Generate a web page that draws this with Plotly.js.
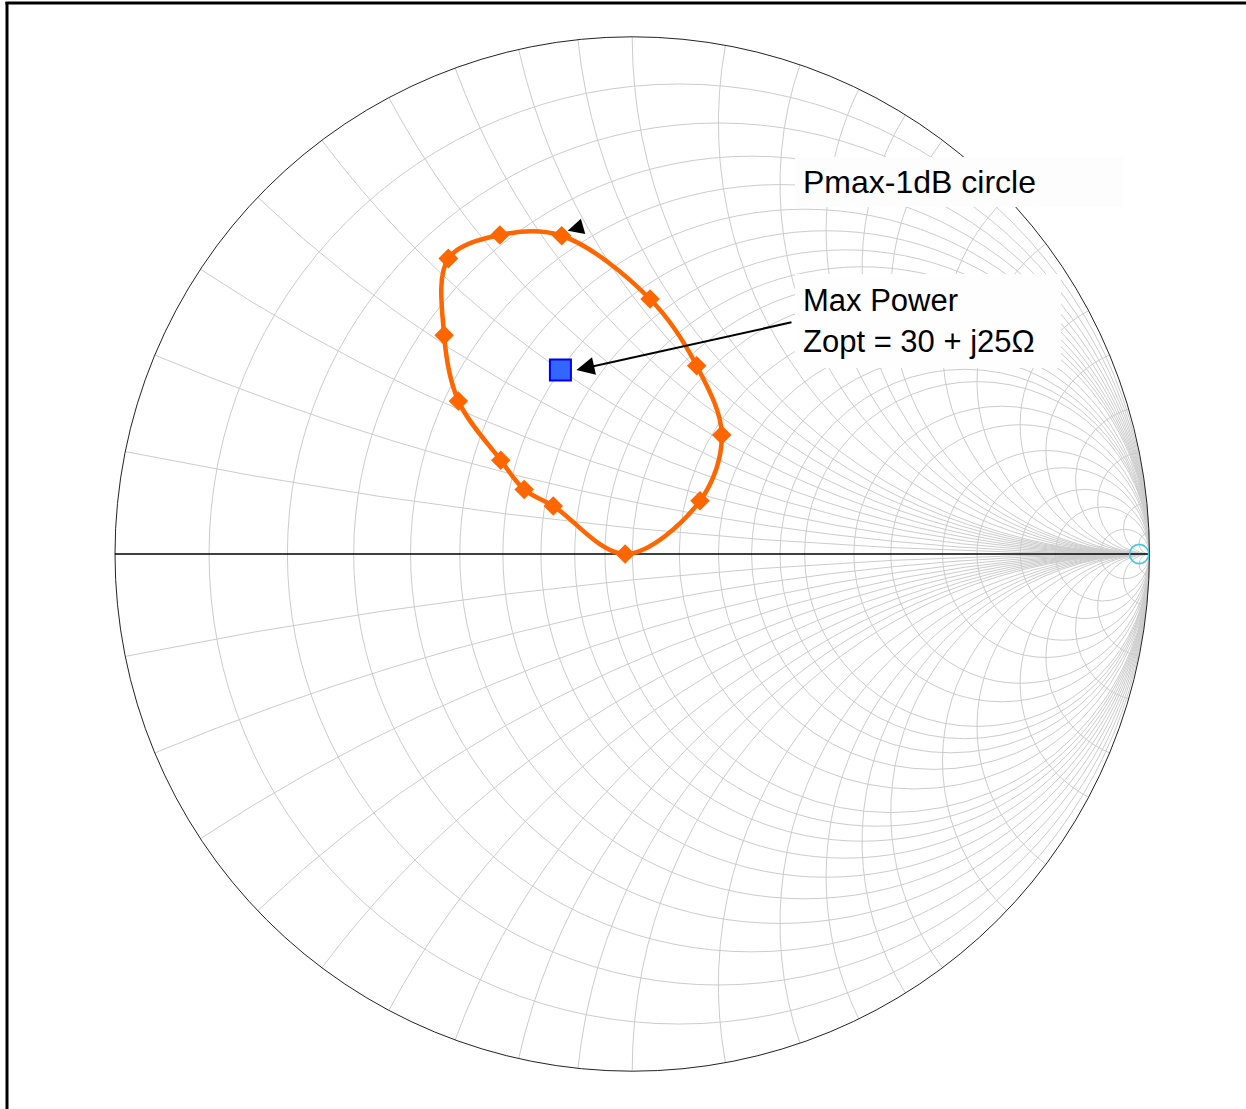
<!DOCTYPE html>
<html>
<head>
<meta charset="utf-8">
<script src="https://cdn.plot.ly/plotly-3.0.1.min.js"></script>
<style>
  html, body { margin: 0; padding: 0; background: #ffffff; }
  #chart { width: 1246px; height: 1109px; }
</style>
</head>
<body>
<div id="chart"></div>
<script>
// ---- Data (normalized impedance, Z0 = 50 ohm) ----
// Pmax-1dB contour points (real part r, imaginary part x), closed loop
const contourReal = [0.253, 0.283, 0.361, 0.643, 0.948, 1.245, 1.270, 0.973, 0.724, 0.637, 0.562, 0.427, 0.338, 0.253];
const contourImag = [0.528, 0.630, 0.737, 0.839, 0.810, 0.625, 0.269, 0.000, 0.139, 0.169, 0.226, 0.316, 0.415, 0.528];
// Optimum impedance Zopt = 30 + j25 ohm -> normalized 0.6 + j0.5
const zoptReal = [0.6];
const zoptImag = [0.5];
// Open-circuit reference marker
const refReal = [100];
const refImag = [0];
// Grid values of the chart
const resistanceTicks = [0.1, 0.2, 0.3, 0.4, 0.5, 0.6, 0.7, 0.8, 0.9, 1, 1.2, 1.4, 1.6, 1.8, 2, 2.5, 3, 4, 5, 7, 10, 20, 50];
const reactanceTicksPos = [0.1, 0.2, 0.3, 0.4, 0.5, 0.6, 0.7, 0.8, 0.9, 1, 1.2, 1.4, 1.6, 1.8, 2, 2.5, 3, 4, 5, 7, 10, 20, 50];
const reactanceTicks = reactanceTicksPos.map(v => -v).reverse().concat(reactanceTicksPos);
// Labels
const contourLabel = 'Pmax-1dB circle';
const zoptLabel = 'Max Power<br>Zopt = 30 + j25Ω';

// ---- Layout geometry ----
const W = 1246, H = 1109;
const domX = [115 / W, 1149.4 / W];
const domY = [1 - 1071.2 / H, 1 - 36.8 / H];
const cx = (domX[0] + domX[1]) / 2 * W;
const cy = (1 - (domY[0] + domY[1]) / 2) * H;
const Rpx = Math.min((domX[1] - domX[0]) * W, (domY[1] - domY[0]) * H) / 2;
function smithPx(r, x) {
  const den = (r + 1) * (r + 1) + x * x;
  const gr = (r * r + x * x - 1) / den;
  const gi = 2 * x / den;
  return [cx + Rpx * gr, cy - Rpx * gi];
}
const zoptPx = smithPx(zoptReal[0], zoptImag[0]);
const startPx = smithPx(contourReal[2], contourImag[2]);

const font = 'Liberation Sans, Arial, sans-serif';
const gridCol = '#cccccc';

const traces = [
  {
    type: 'scattersmith',
    real: contourReal,
    imag: contourImag,
    mode: 'lines+markers',
    line: { color: '#ff6600', width: 4.5, shape: 'spline', smoothing: 1 },
    marker: { symbol: 'diamond', size: 15, color: '#ff6600' },
    showlegend: false,
    hoverinfo: 'skip'
  },
  {
    type: 'scattersmith',
    real: zoptReal,
    imag: zoptImag,
    mode: 'markers',
    marker: { symbol: 'square', size: 21, color: '#3366ff', line: { color: '#0000ee', width: 2 } },
    showlegend: false,
    hoverinfo: 'skip'
  },
  {
    type: 'scattersmith',
    real: refReal,
    imag: refImag,
    mode: 'markers',
    marker: { symbol: 'circle-open', size: 19, color: '#33ccee', line: { color: '#33ccee', width: 1.5 } },
    showlegend: false,
    hoverinfo: 'skip'
  }
];

const layout = {
  width: W,
  height: H,
  margin: { l: 0, r: 0, t: 0, b: 0, pad: 0 },
  paper_bgcolor: '#ffffff',
  plot_bgcolor: '#ffffff',
  showlegend: false,
  font: { family: font, color: '#000000' },
  smith: {
    domain: { x: domX, y: domY },
    bgcolor: '#ffffff',
    realaxis: {
      tickvals: resistanceTicks,
      showticklabels: false,
      ticks: '',
      showgrid: true,
      gridcolor: gridCol,
      gridwidth: 1,
      showline: true,
      linecolor: '#000000',
      linewidth: 1.5,
      layer: 'below traces'
    },
    imaginaryaxis: {
      tickvals: reactanceTicks,
      showticklabels: false,
      ticks: '',
      showgrid: true,
      gridcolor: gridCol,
      gridwidth: 1,
      showline: true,
      linecolor: '#222222',
      linewidth: 1,
      layer: 'below traces'
    }
  },
  shapes: [
    { type: 'line', xref: 'paper', yref: 'paper', x0: 7 / W, x1: 7 / W, y0: 0, y1: 1 - 2 / H,
      line: { color: '#000000', width: 3 } },
    { type: 'line', xref: 'paper', yref: 'paper', x0: 5.5 / W, x1: 1, y0: 1 - 3 / H, y1: 1 - 3 / H,
      line: { color: '#000000', width: 3 } }
  ],
  annotations: [
    {
      xref: 'paper', yref: 'paper', x: 795 / W, y: 1 - 157 / H,
      xanchor: 'left', yanchor: 'top', align: 'left',
      text: contourLabel, showarrow: false,
      font: { family: font, size: 32, color: '#000000' },
      bgcolor: '#fdfdfd', borderpad: 8, borderwidth: 0,
      width: 312, height: 34
    },
    {
      xref: 'paper', yref: 'paper', x: 795 / W, y: 1 - 274 / H,
      xanchor: 'left', yanchor: 'top', align: 'left',
      text: zoptLabel, showarrow: false,
      font: { family: font, size: 31, color: '#000000' },
      bgcolor: '#fefefe', borderpad: 8, borderwidth: 0,
      width: 250, height: 78
    },
    {
      xref: 'paper', yref: 'paper',
      x: (zoptPx[0] + 16) / W, y: 1 - zoptPx[1] / H,
      ax: 793 - (zoptPx[0] + 16), ay: 322 - zoptPx[1], axref: 'pixel', ayref: 'pixel',
      text: '', showarrow: true, arrowhead: 2, arrowsize: 1.8, arrowwidth: 2, arrowcolor: '#000000'
    },
    {
      xref: 'paper', yref: 'paper',
      x: (startPx[0] + 6) / W, y: 1 - (startPx[1] - 5) / H,
      ax: 14, ay: -4, axref: 'pixel', ayref: 'pixel',
      text: '', showarrow: true, arrowhead: 2, arrowsize: 1.6, arrowwidth: 2, arrowcolor: '#000000'
    }
  ]
};

Plotly.newPlot('chart', traces, layout, { staticPlot: true, displayModeBar: false });
</script>
</body>
</html>
